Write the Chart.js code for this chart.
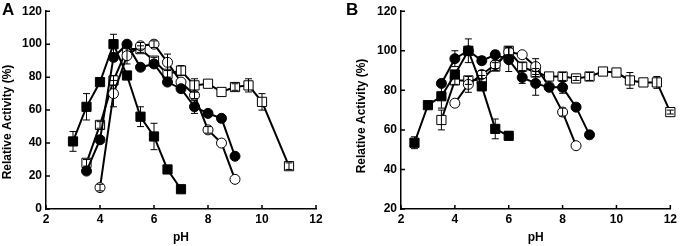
<!DOCTYPE html>
<html>
<head>
<meta charset="utf-8">
<script src="https://cdn.jsdelivr.net/npm/chart.js@4.4.1/dist/chart.umd.min.js"></script>
<style>
    html, body { margin: 0; padding: 0; background: #fff; }
    #wrap { position: relative; width: 680px; height: 246px; }
    .panel { position: absolute; top: 0; width: 340px; height: 246px; }
    .tag { position: absolute; top: 0; font: bold 17px "Liberation Sans", Arial, sans-serif; color: #000; }
</style>
</head>
<body>
<div id="wrap">
    <div class="panel" style="left:0"><canvas id="chartA"></canvas></div>
    <div class="panel" style="left:340px"><canvas id="chartB"></canvas></div>
    <div class="tag" style="left:2px">A</div>
    <div class="tag" style="left:346px">B</div>
</div>
<script>
// Panel A - pH profiles
const aSqFillPH = [3, 3.5, 4, 4.5, 5, 5.5, 6, 6.5, 7];
const aSqFillVal = [41, 62, 77, 100, 81, 56, 44, 24, 12];
const aSqFillErr = [6, 8, 0, 6, 0, 6, 8, 0, 0];

const aCirFillPH = [3.5, 4, 4.5, 5, 5.5, 6, 6.5, 7, 7.5, 8, 8.5, 9];
const aCirFillVal = [23, 42, 92, 100, 86, 88, 77, 73, 62, 58, 55, 32];
const aCirFillErr = [0, 0, 0, 0, 0, 2, 2, 0, 4, 0, 0, 0];

const aSqOpenPH = [3.5, 4, 4.5, 5, 5.5, 6, 6.5, 7, 7.5, 8, 8.5, 9, 9.5, 10, 11];
const aSqOpenVal = [28, 51, 78, 97, 97, 90, 82, 84, 75, 76, 71, 74, 75, 65, 26];
const aSqOpenErr = [2, 2, 3, 0, 2, 2, 2, 3, 4, 0, 0, 2, 4, 5, 2];

const aCirOpenPH = [4, 4.5, 5, 5.5, 6, 6.5, 7, 7.5, 8, 8.5, 9];
const aCirOpenVal = [13, 70, 93, 99, 100, 89, 77, 69, 48, 40, 18];
const aCirOpenErr = [2, 8, 5, 2, 2, 5, 0, 2, 2, 0, 0];

// Panel B
const bSqFillPH = [2.5, 3, 3.5, 4, 4.5, 5, 5.5, 6];
const bSqFillVal = [53.5, 72.5, 77, 88, 100, 82, 60.5, 57];
const bSqFillErr = [3, 0, 6, 0, 6, 2, 5, 2];

const bCirFillPH = [3.5, 4, 4.5, 5, 5.5, 6, 6.5, 7, 7.5, 8, 8.5, 9];
const bCirFillVal = [83.5, 96, 100, 95, 98, 95.5, 86.5, 83.5, 81.5, 81.5, 71.5, 57.5];
const bCirFillErr = [0, 4, 0, 2, 2, 6, 3, 6, 0, 3, 0, 0];

const bSqOpenPH = [3.5, 4, 4.5, 5, 5.5, 6, 6.5, 7, 7.5, 8, 8.5, 9, 9.5, 10, 10.5, 11, 11.5, 12];
const bSqOpenVal = [65, 85, 85, 85.5, 92, 100, 92, 89, 87, 87, 86, 87, 89.5, 89, 85, 84, 84, 69];
const bSqOpenErr = [5, 2, 2, 2, 2, 2, 2, 2, 0, 2, 1, 2, 0, 0, 4, 0, 3, 1];

const bCirOpenPH = [4, 4.5, 5, 5.5, 6, 6.5, 7, 7.5, 8, 8.5];
const bCirOpenVal = [73.5, 83, 88, 93, 99.5, 98, 92, 82, 69, 52];
const bCirOpenErr = [0, 4, 2, 2, 2, 0, 4, 0, 2, 0];

// Axis ticks
const xTicks = [2, 4, 6, 8, 10, 12];
const aYTicks = [0, 20, 40, 60, 80, 100, 120];
const bYTicks = [20, 40, 60, 80, 100, 120];

const FONT = '"Liberation Sans", Arial, sans-serif';

function toPoints(xs, ys) {
    return xs.map((x, i) => ({ x: x, y: ys[i] }));
}

// marker styles
function makeSeries(xs, ys, errs, shape, filled) {
    return {
        data: toPoints(xs, ys),
        errors: errs,
        borderColor: '#000',
        borderWidth: 2,
        pointStyle: shape,
        pointRadius: shape === 'rect' ? 6.5 : 5,
        pointBackgroundColor: filled ? '#000' : '#fff',
        pointBorderColor: '#000',
        pointBorderWidth: 1,
        tension: 0,
        fill: false,
        clip: false
    };
}

// Error bars drawn on top of the markers
const errorBars = {
    id: 'errorBars',
    afterDatasetsDraw(chart) {
        const ctx = chart.ctx;
        const ys = chart.scales.y;
        ctx.save();
        ctx.strokeStyle = '#000';
        ctx.lineWidth = 1;
        chart.data.datasets.forEach((ds, di) => {
            const meta = chart.getDatasetMeta(di);
            meta.data.forEach((pt, i) => {
                const e = ds.errors[i];
                if (!e) return;
                const v = ds.data[i].y;
                const top = ys.getPixelForValue(v + e);
                const bot = ys.getPixelForValue(v - e);
                ctx.beginPath();
                ctx.moveTo(pt.x, top);
                ctx.lineTo(pt.x, bot);
                ctx.moveTo(pt.x - 3.5, top);
                ctx.lineTo(pt.x + 3.5, top);
                ctx.moveTo(pt.x - 3.5, bot);
                ctx.lineTo(pt.x + 3.5, bot);
                ctx.stroke();
            });
        });
        ctx.restore();
    }
};

// Tick marks pointing into the plot, plus the rotated y title
const innerTicks = {
    id: 'innerTicks',
    afterDraw(chart, args, opts) {
        const ctx = chart.ctx;
        const area = chart.chartArea;
        const xs = chart.scales.x;
        const ys = chart.scales.y;
        ctx.save();
        ctx.strokeStyle = '#000';
        ctx.lineWidth = 1.5;
        ctx.beginPath();
        xs.ticks.forEach(t => {
            const px = xs.getPixelForValue(t.value);
            ctx.moveTo(px, area.bottom);
            ctx.lineTo(px, area.bottom - 4);
        });
        ys.ticks.forEach(t => {
            const py = ys.getPixelForValue(t.value);
            ctx.moveTo(area.left, py);
            ctx.lineTo(area.left + 4, py);
        });
        ctx.stroke();

        ctx.translate(opts.titleX, opts.titleY);
        ctx.rotate(-Math.PI / 2);
        ctx.fillStyle = '#000';
        ctx.font = 'bold 12px ' + FONT;
        ctx.textAlign = 'center';
        ctx.textBaseline = 'middle';
        ctx.fillText('Relative Activity (%)', 0, 0);
        ctx.restore();
    }
};

function createPanel(canvasId, datasets, yTicks, yWidth, padding, titlePos) {
    const tickFont = { family: FONT, size: 12, weight: 'bold' };
    return new Chart(document.getElementById(canvasId), {
        type: 'line',
        data: { datasets: datasets },
        options: {
            responsive: true,
            maintainAspectRatio: false,
            animation: false,
            layout: { padding: padding },
            plugins: {
                legend: { display: false },
                tooltip: { enabled: false },
                innerTicks: { titleX: titlePos[0], titleY: titlePos[1] }
            },
            scales: {
                x: {
                    type: 'linear',
                    min: xTicks[0],
                    max: xTicks[xTicks.length - 1],
                    afterBuildTicks: (s) => { s.ticks = xTicks.map(v => ({ value: v })); },
                    afterFit: (s) => { s.height = 37; },
                    grid: { display: false, drawTicks: false },
                    border: { display: true, color: '#000', width: 1.5 },
                    ticks: { font: tickFont, color: '#000', padding: 3, maxRotation: 0 },
                    title: {
                        display: true, text: 'pH', color: '#000',
                        font: { family: FONT, size: 12, weight: 'bold' },
                        padding: { top: 0, bottom: 1 }
                    }
                },
                y: {
                    min: yTicks[0],
                    max: yTicks[yTicks.length - 1],
                    afterBuildTicks: (s) => { s.ticks = yTicks.map(v => ({ value: v })); },
                    afterFit: (s) => { s.width = yWidth; },
                    grid: { display: false, drawTicks: false },
                    border: { display: true, color: '#000', width: 1.5 },
                    ticks: { font: tickFont, color: '#000', padding: 4 }
                }
            }
        },
        plugins: [errorBars, innerTicks]
    });
}

createPanel('chartA', [
    makeSeries(aSqFillPH, aSqFillVal, aSqFillErr, 'rect', true),
    makeSeries(aCirFillPH, aCirFillVal, aCirFillErr, 'circle', true),
    makeSeries(aCirOpenPH, aCirOpenVal, aCirOpenErr, 'circle', false),
    makeSeries(aSqOpenPH, aSqOpenVal, aSqOpenErr, 'rect', false)
], aYTicks, 46, { top: 7.5, right: 24, bottom: 0, left: 0 }, [8, 122]);

createPanel('chartB', [
    makeSeries(bSqFillPH, bSqFillVal, bSqFillErr, 'rect', true),
    makeSeries(bCirFillPH, bCirFillVal, bCirFillErr, 'circle', true),
    makeSeries(bCirOpenPH, bCirOpenVal, bCirOpenErr, 'circle', false),
    makeSeries(bSqOpenPH, bSqOpenVal, bSqOpenErr, 'rect', false)
], bYTicks, 61, { top: 7, right: 9, bottom: 0, left: 0 }, [22, 116]);
</script>
</body>
</html>
